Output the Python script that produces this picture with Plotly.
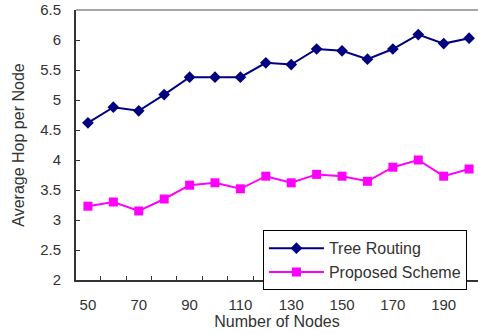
import plotly.graph_objects as go

nodes = [50, 60, 70, 80, 90, 100, 110, 120, 130, 140, 150, 160, 170, 180, 190, 200]
tree_routing = [4.62, 4.88, 4.82, 5.09, 5.38, 5.38, 5.38, 5.62, 5.59, 5.85, 5.82, 5.68, 5.85, 6.09, 5.94, 6.03]
proposed = [3.23, 3.30, 3.15, 3.35, 3.58, 3.62, 3.52, 3.73, 3.62, 3.76, 3.73, 3.645, 3.88, 4.00, 3.73, 3.85]
x_labels = [50, 70, 90, 110, 130, 150, 170, 190]
y_ticks = [2, 2.5, 3, 3.5, 4, 4.5, 5, 5.5, 6, 6.5]

font = "Liberation Sans, Arial, sans-serif"
fig = go.Figure()
fig.add_trace(go.Scatter(x=nodes, y=tree_routing, mode="lines+markers", name="Tree Routing",
                         line=dict(color="#000080", width=2),
                         marker=dict(symbol="diamond", size=9, color="#000080")))
fig.add_trace(go.Scatter(x=nodes, y=proposed, mode="lines+markers", name="Proposed Scheme",
                         line=dict(color="#FF00FF", width=2),
                         marker=dict(symbol="square", size=9, color="#FF00FF")))

fig.update_layout(
    width=478, height=334,
    margin=dict(l=76, r=0, t=10, b=54),
    paper_bgcolor="white", plot_bgcolor="white",
    font=dict(family=font, size=15, color="#333"),
    showlegend=True,
    legend=dict(x=0.465, y=0.184, xanchor="left", yanchor="top",
                bordercolor="black", borderwidth=1, bgcolor="white",
                font=dict(size=16, color="#333"), itemwidth=55,
                tracegroupgap=0),
    xaxis=dict(range=[45.3, 203.5], tickmode="array", tickvals=x_labels,
               ticktext=[str(v) for v in x_labels], ticks="", showgrid=False,
               zeroline=False, showline=True, linecolor="#333", linewidth=2,
               ticklabelstandoff=10,
               minor=dict(tick0=55, dtick=10, ticks="inside", ticklen=4, tickcolor="#333", showgrid=False),
               title=dict(text="Number of Nodes", standoff=2, font=dict(size=16)),
               tickfont=dict(size=15)),
    yaxis=dict(range=[2, 6.5], tickmode="array", tickvals=y_ticks,
               ticktext=[("%g" % v) for v in y_ticks], ticks="inside", ticklen=4,
               tickcolor="#333", showgrid=False, zeroline=False, showline=True,
               linecolor="#333", linewidth=2, ticklabelstandoff=10,
               title=dict(text="Average Hop per Node", standoff=12, font=dict(size=16)),
               tickfont=dict(size=15)),
    shapes=[dict(type="line", xref="paper", yref="paper", x0=0, x1=1, y0=1, y1=1,
                 line=dict(color="#888", width=1.5))],
)
fig.write_html("out.html")
